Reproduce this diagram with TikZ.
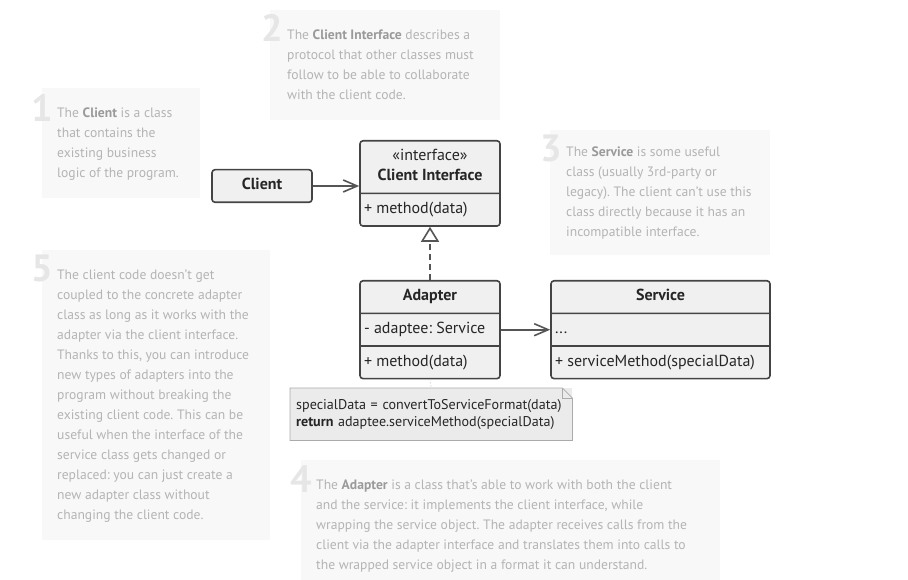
\documentclass[tikz,border=0pt]{standalone}
\usepackage{fontspec}
\setmainfont{PT Sans}
\usetikzlibrary{arrows.meta,positioning,shapes.multipart}
\definecolor{ink}{HTML}{444444}
\definecolor{wire}{HTML}{555555}
\definecolor{boxfill}{HTML}{F0F0F0}
\definecolor{memofill}{HTML}{EBEBEB}
\definecolor{memoline}{HTML}{AAAAAA}
\definecolor{hintbg}{HTML}{F8F8F8}
\definecolor{hintfg}{HTML}{B4B4B4}
\definecolor{hintkey}{HTML}{9A9A9A}
\definecolor{hintnum}{HTML}{E6E6E6}
\newcommand{\kw}[1]{\textcolor{hintkey}{\textbf{#1}}}
\newcommand{\hintlines}[1]{\begin{tabular}{@{}l@{}}#1\end{tabular}}

\begin{document}
\frenchspacing
\begin{tikzpicture}[x=1pt,y=-1pt,
    cls/.style={rectangle split,rectangle split parts=#1,draw=ink,line width=1.6pt,
        fill=boxfill,rounded corners=3pt,inner xsep=4pt,inner ysep=6pt,
        rectangle split part align={center,left,left},text=black!85,
        font=\fontsize{16}{19}\selectfont},
    hintbox/.style={anchor=north west,fill=hintbg,inner sep=0pt},
    hint/.style={anchor=west,text=hintfg,inner sep=0pt,
        font=\fontsize{13.6}{20}\selectfont},
    num/.style={anchor=base east,text=hintnum,inner sep=0pt,
        font=\fontsize{38}{38}\selectfont\bfseries},
    link/.style={draw=wire,line width=1.6pt}]
\useasboundingbox (0,0) rectangle (908,580);

\node[hintbox,minimum width=158,minimum height=110] (hintClient) at (42,88) {};
\node[hint] (hintClientText) at ([xshift=15pt]hintClient.west)
    {\hintlines{The \kw{Client} is a class\\that contains the\\existing business\\logic of the program.}};
\node[hintbox,minimum width=230,minimum height=110] (hintIface) at (270,10) {};
\node[hint] (hintIfaceText) at ([xshift=17pt]hintIface.west)
    {\hintlines{The \kw{Client Interface} describes a\\protocol that other classes must\\follow to be able to collaborate\\with the client code.}};
\node[hintbox,minimum width=220,minimum height=125] (hintService) at (550,130) {};
\node[hint] (hintServiceText) at ([xshift=16pt]hintService.west)
    {\hintlines{The \kw{Service} is some useful\\class (usually 3rd-party or\\legacy). The client can't use this\\class directly because it has an\\incompatible interface.}};
\node[hintbox,minimum width=228,minimum height=290] (hintCoupling) at (42,250) {};
\node[hint] (hintCouplingText) at ([xshift=15pt]hintCoupling.west)
    {\hintlines{The client code doesn't get\\coupled to the concrete adapter\\class as long as it works with the\\adapter via the client interface.\\Thanks to this, you can introduce\\new types of adapters into the\\program without breaking the\\existing client code. This can be\\useful when the interface of the\\service class gets changed or\\replaced: you can just create a\\new adapter class without\\changing the client code.}};
\node[hintbox,minimum width=419,minimum height=130] (hintAdapter) at (301,460) {};
\node[hint] (hintAdapterText) at ([xshift=15pt]hintAdapter.west)
    {\hintlines{The \kw{Adapter} is a class that's able to work with both the client\\and the service: it implements the client interface, while\\wrapping the service object. The adapter receives calls from the\\client via the adapter interface and translates them into calls to\\the wrapped service object in a format it can understand.}};

\node[num] (numClient) at (53,122) {1};
\node[num] (numIface) at (283,42) {2};
\node[num] (numService) at (562,162) {3};
\node[num] (numAdapter) at (312,492) {4};
\node[num] (numCoupling) at (53,282) {5};

\node[cls=1,minimum width=100,anchor=center] (client) at (262,186) {\strut\textbf{Client}};
\node[cls=2,minimum width=140,anchor=north] (iface) at (430,140)
    {\parbox[c]{130pt}{\centering\baselineskip=20pt\strut«interface»\\\textbf{Client Interface}\strut}
     \nodepart{two}\strut+ method(data)};
\node[cls=3,minimum width=140,anchor=north] (adapter) at (430,280)
    {\strut\textbf{Adapter}
     \nodepart{two}\strut- adaptee: Service
     \nodepart{three}\strut+ method(data)};
\node[cls=3,minimum width=219,anchor=north] (service) at (660.5,280)
    {\strut\textbf{Service}
     \nodepart{two}\strut...
     \nodepart{three}\strut+ serviceMethod(specialData)};

\node[anchor=north west,text width=270,minimum height=52,inner xsep=6pt,align=left,
    fill=memofill,text=black!85,font=\fontsize{14.1}{17}\selectfont] (memo) at (290,388)
    {specialData = convertToServiceFormat(data)\\\textbf{return} adaptee.serviceMethod(specialData)};
\draw[memoline,line width=0.8pt] (memo.south west) -- (memo.north west)
    -- ([xshift=-10pt]memo.north east) -- ([yshift=-10pt]memo.north east)
    -- (memo.south east) -- cycle;
\draw[memoline,line width=0.8pt] ([xshift=-10pt]memo.north east)
    -- ([xshift=-10pt,yshift=-10pt]memo.north east) -- ([yshift=-10pt]memo.north east);

\draw[link,-{Straight Barb[length=14pt,width=12pt]}] (client.east) -- (client.east -| iface.west);
\draw[link,-{Straight Barb[length=14pt,width=12pt]}] (adapter.two east) -- (adapter.two east -| service.west);
\draw[link,dashed,dash pattern=on 6pt off 4pt,-{Triangle[open,length=15pt,width=18pt]}]
    (adapter.north) -- (iface.south);
\draw[memoline!60,dotted,line width=1pt] (adapter.south) -- (memo.north);
\end{tikzpicture}
\end{document}
